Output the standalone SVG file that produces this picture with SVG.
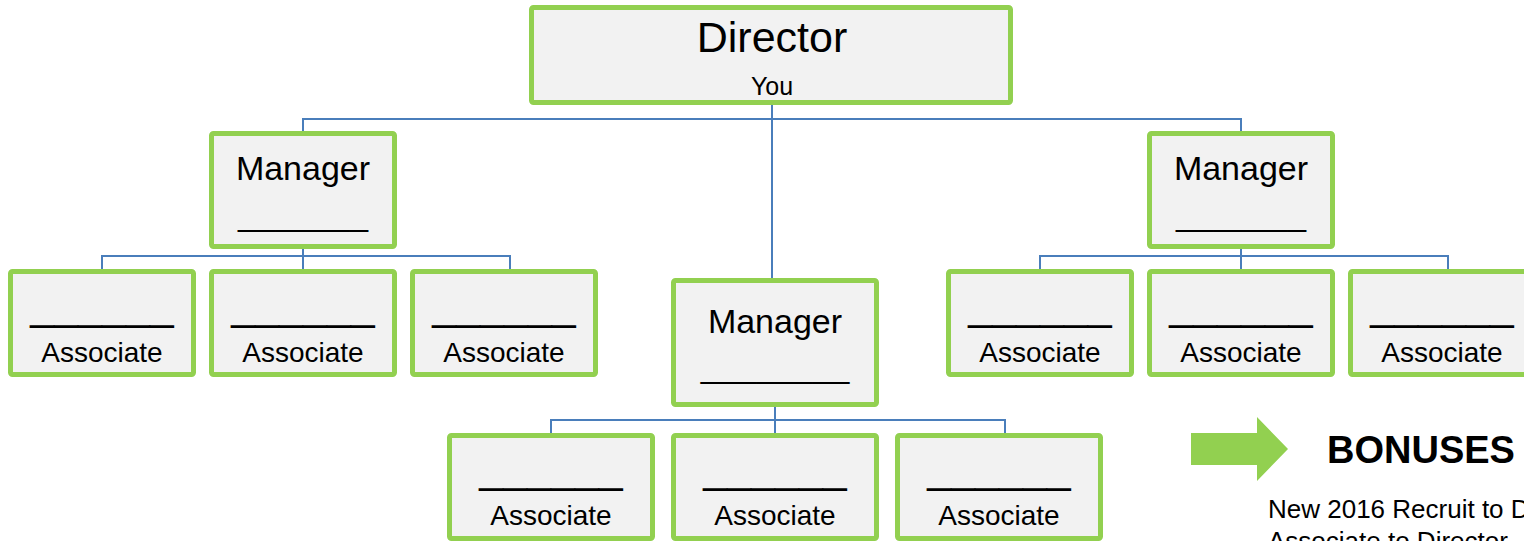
<svg xmlns="http://www.w3.org/2000/svg" width="1524" height="541" viewBox="0 0 1524 541">
<style>
.box{fill:#F2F2F2;stroke:#92D050;stroke-width:5;}
.t{font-family:"Liberation Sans",Arial,sans-serif;fill:#000;text-anchor:middle;}
.dir{font-size:43px;}
.you{font-size:25px;}
.mgr{font-size:34px;}
.mu{font-size:33.4px;}
.as{font-size:28px;}
.au{font-size:43px;}
.conn{fill:none;stroke:#4A7EBB;stroke-width:2;}
</style>
<rect width="1524" height="541" fill="#FFFFFF"/>
<g id="connectors">
<path class="conn" d="M772,105 V278"/>
<path class="conn" d="M303,131 V119 H1241 V131"/>
<path class="conn" d="M303,249 V269 M102,269 V256 H510 V269"/>
<path class="conn" d="M1241,249 V269 M1040,269 V256 H1448 V269"/>
<path class="conn" d="M775,407 V433 M551,433 V420 H1005 V433"/>
</g>
<g id="director">
<rect class="box" x="531.5" y="7.5" width="479" height="95" rx="2"/>
<text class="t dir" x="772" y="52">Director</text>
<text class="t you" x="772" y="95">You</text>
</g>
<g id="manager-left">
<rect class="box" x="211.5" y="133.5" width="183" height="113" rx="2"/>
<text class="t mgr" x="303" y="180">Manager</text>
<text class="t mu" x="303" y="225">_______</text>
</g>
<g id="manager-right">
<rect class="box" x="1149.5" y="133.5" width="183" height="113" rx="2"/>
<text class="t mgr" x="1241" y="180">Manager</text>
<text class="t mu" x="1241" y="225">_______</text>
</g>
<g id="manager-center">
<rect class="box" x="673.5" y="280.5" width="203" height="124" rx="2"/>
<text class="t mgr" x="775" y="333">Manager</text>
<text class="t mu" x="775" y="377">________</text>
</g>
<g id="associate-1">
<rect class="box" x="10.5" y="271.5" width="183" height="103" rx="2"/>
<text class="t au" x="102" y="320">______</text>
<text class="t as" x="102" y="362">Associate</text>
</g>
<g id="associate-2">
<rect class="box" x="211.5" y="271.5" width="183" height="103" rx="2"/>
<text class="t au" x="303" y="320">______</text>
<text class="t as" x="303" y="362">Associate</text>
</g>
<g id="associate-3">
<rect class="box" x="412.5" y="271.5" width="183" height="103" rx="2"/>
<text class="t au" x="504" y="320">______</text>
<text class="t as" x="504" y="362">Associate</text>
</g>
<g id="associate-4">
<rect class="box" x="948.5" y="271.5" width="183" height="103" rx="2"/>
<text class="t au" x="1040" y="320">______</text>
<text class="t as" x="1040" y="362">Associate</text>
</g>
<g id="associate-5">
<rect class="box" x="1149.5" y="271.5" width="183" height="103" rx="2"/>
<text class="t au" x="1241" y="320">______</text>
<text class="t as" x="1241" y="362">Associate</text>
</g>
<g id="associate-6">
<rect class="box" x="1350.5" y="271.5" width="183" height="103" rx="2"/>
<text class="t au" x="1442" y="320">______</text>
<text class="t as" x="1442" y="362">Associate</text>
</g>
<g id="associate-7">
<rect class="box" x="449.5" y="435.5" width="203" height="103" rx="2"/>
<text class="t au" x="551" y="483">______</text>
<text class="t as" x="551" y="525">Associate</text>
</g>
<g id="associate-8">
<rect class="box" x="673.5" y="435.5" width="203" height="103" rx="2"/>
<text class="t au" x="775" y="483">______</text>
<text class="t as" x="775" y="525">Associate</text>
</g>
<g id="associate-9">
<rect class="box" x="897.5" y="435.5" width="203" height="103" rx="2"/>
<text class="t au" x="999" y="483">______</text>
<text class="t as" x="999" y="525">Associate</text>
</g>
<g id="bonuses">
<polygon points="1191,433 1257,433 1257,417 1288,449 1257,481 1257,465 1191,465" fill="#92D050"/>
<text x="1327" y="463" font-family="Liberation Sans, Arial, sans-serif" font-weight="bold" font-size="38">BONUSES</text>
<text x="1268" y="518" font-family="Liberation Sans, Arial, sans-serif" font-size="26">New 2016 Recruit to D</text>
<text x="1268" y="550" font-family="Liberation Sans, Arial, sans-serif" font-size="26">Associate to Director</text>
</g>
</svg>
